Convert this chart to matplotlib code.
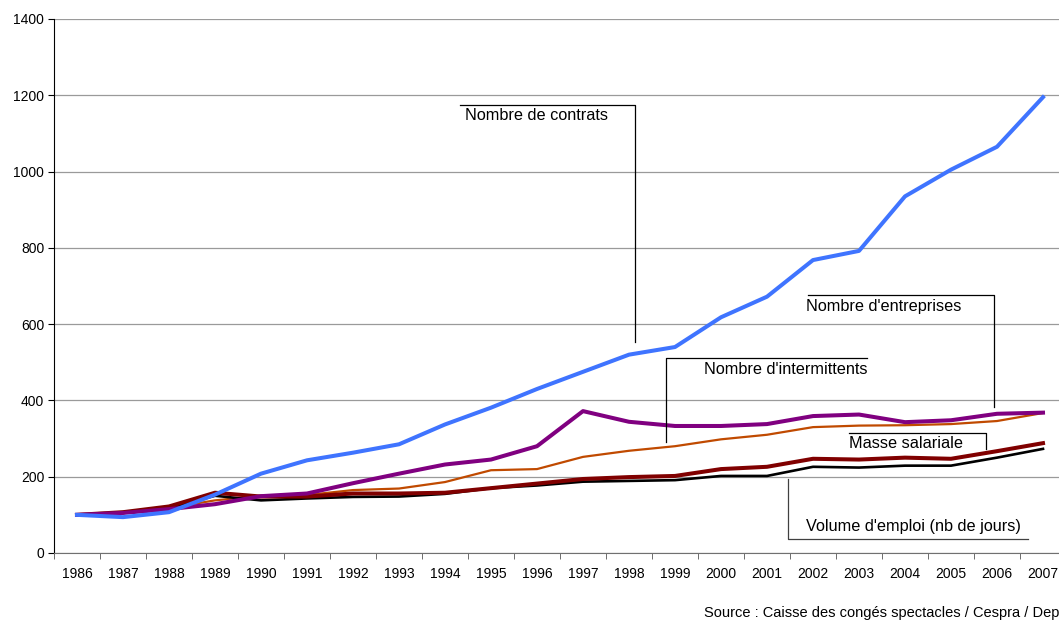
import matplotlib
matplotlib.use("Agg")
import matplotlib.pyplot as plt
from matplotlib.lines import Line2D
import numpy as np

# Data (base 100 in 1986)
years = [str(y) for y in range(1986, 2008)]
contrats = [100, 94, 107, 153, 208, 243, 263, 285, 337, 381, 430, 475, 520, 540, 618, 672, 768, 792, 935, 1005, 1065, 1195]
entreprises = [100, 105, 115, 128, 149, 156, 183, 208, 232, 245, 280, 372, 344, 333, 333, 338, 359, 363, 343, 348, 365, 368]
intermittents = [100, 105, 118, 138, 150, 152, 165, 169, 186, 217, 220, 252, 268, 280, 298, 310, 330, 334, 335, 338, 346, 367]
masse = [100, 107, 122, 158, 148, 148, 156, 156, 158, 170, 182, 194, 199, 202, 220, 226, 247, 245, 250, 247, 267, 288]
volume = [100, 105, 118, 150, 138, 143, 147, 148, 155, 170, 177, 187, 189, 191, 202, 202, 226, 224, 229, 229, 250, 273]

plt.rcParams['font.family'] = ['Liberation Sans', 'DejaVu Sans']

W, H = 1059, 621
fig = plt.figure(figsize=(W / 100, H / 100), dpi=100)
ax = fig.add_axes([54 / W, 68 / H, 1012 / W, 534 / H])

X = np.arange(len(years))
ax.plot(X, intermittents, color="#C04A00", lw=1.6, zorder=3)
ax.plot(X, volume, color="black", lw=1.9, zorder=3)
ax.plot(X, masse, color="#800000", lw=2.9, zorder=4)
ax.plot(X, entreprises, color="#800080", lw=2.9, zorder=5)
ax.plot(X, contrats, color="#3F74FF", lw=2.9, zorder=6)

ax.set_xlim(-0.5, len(years) - 0.5)
ax.set_ylim(0, 1400)
ax.set_yticks(np.arange(0, 1401, 200))
ax.set_xticks(X)
ax.set_xticklabels(years)
ax.set_xticks(np.arange(-0.5, len(years)), minor=True)
ax.tick_params(axis='x', which='major', length=0, pad=10, labelsize=10)
ax.tick_params(axis='x', which='minor', length=4, color='#555555', direction='out')
ax.tick_params(axis='y', length=4, direction='out', labelsize=10, pad=3)
ax.grid(axis='y', color='#9a9a9a', lw=0.9)
ax.set_axisbelow(True)
for s in ['top', 'right']:
    ax.spines[s].set_visible(False)
ax.spines['left'].set_color('black')
ax.spines['bottom'].set_color('#707070')


# callout boxes, positions in pixels of the figure
def px(x, y):
    return x / W, 1 - y / H


def callout(points, color='black'):
    xs, ys = zip(*[px(x, y) for x, y in points])
    fig.add_artist(Line2D(xs, ys, color=color, lw=0.9, transform=fig.transFigure))


def label(x, y, s):
    fx, fy = px(x, y)
    fig.text(fx, fy, s, fontsize=11.7, ha='left', va='center')


callout([(460, 105), (635, 105), (635, 342)])
label(465, 116, "Nombre de contrats")
callout([(808, 295), (994, 295), (994, 407)])
label(806, 307, "Nombre d'entreprises")
callout([(666, 442), (666, 358), (867, 358)])
label(704, 369, "Nombre d'intermittents")
callout([(849, 433), (986, 433), (986, 449)])
label(849, 444, "Masse salariale")
callout([(788, 479), (788, 539), (1028, 539)], color='#404040')
label(806, 527, "Volume d'emploi (nb de jours)")

fx, fy = px(704, 613)
fig.text(fx, fy, "Source : Caisse des congés spectacles / Cespra / Dep", fontsize=10.5, ha='left', va='center')

fig.savefig("out.png", dpi=100)
